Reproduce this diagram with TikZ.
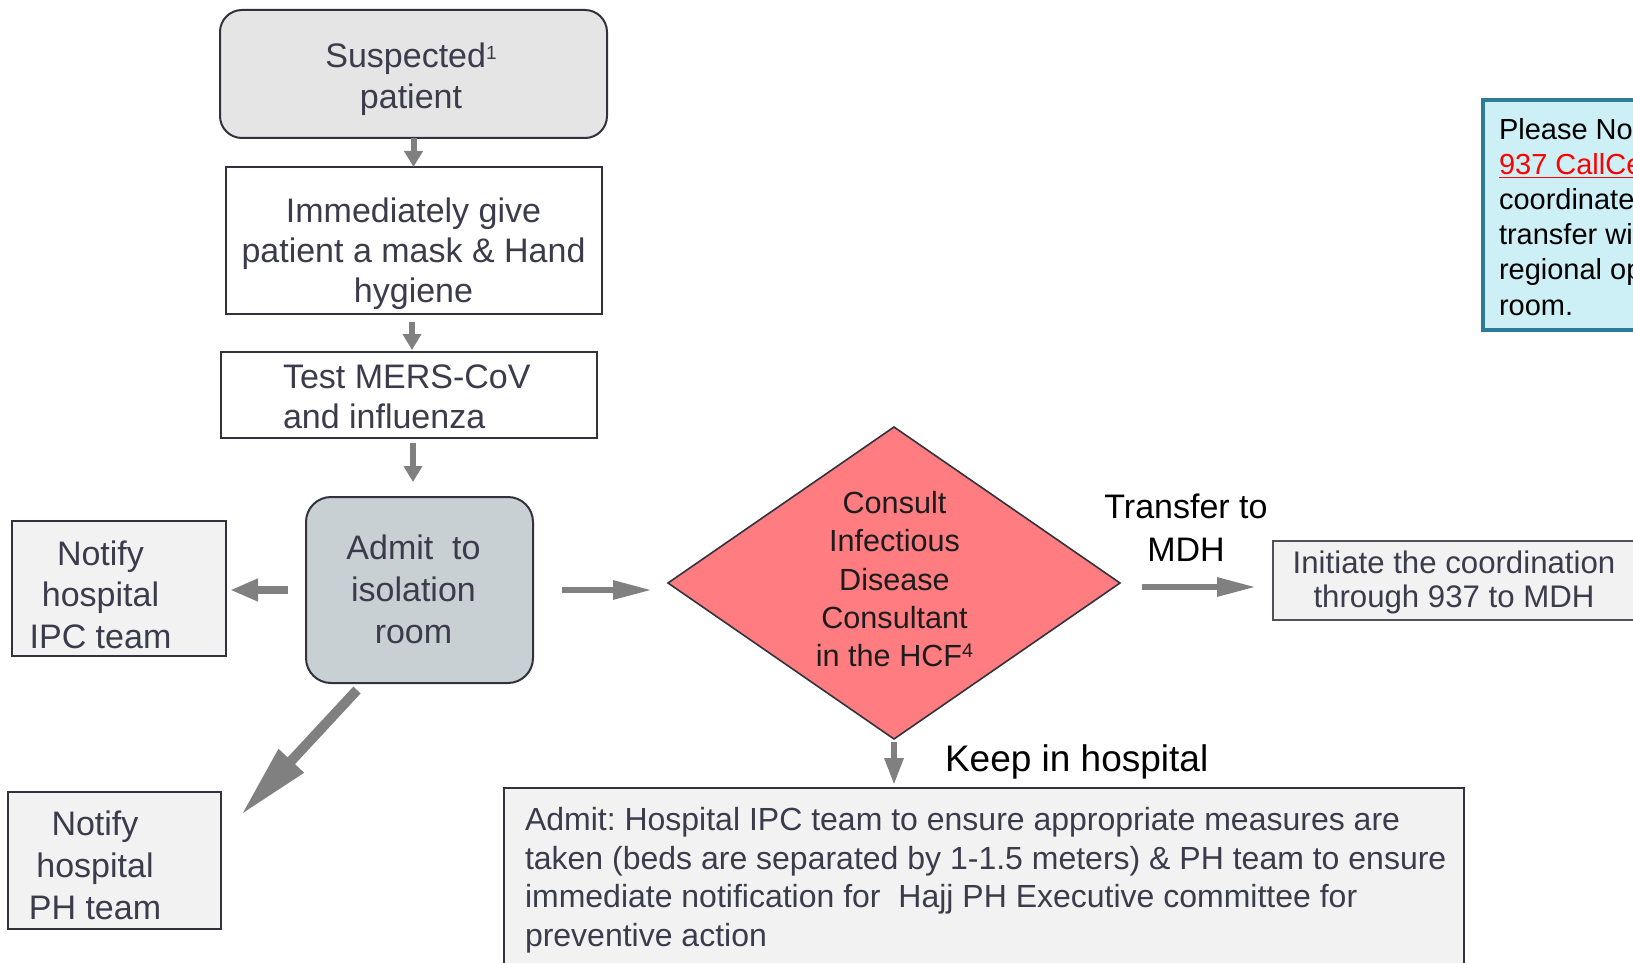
\documentclass[tikz,border=0pt]{standalone}
\usepackage{fontspec}
\setmainfont{Liberation Sans}
\usetikzlibrary{arrows.meta,shapes.geometric,calc}
\frenchspacing
\definecolor{txt}{RGB}{59,59,75}
\definecolor{darktxt}{RGB}{28,28,30}
\definecolor{arrowgrey}{RGB}{128,128,128}
\definecolor{suspfill}{RGB}{229,229,229}
\definecolor{admitfill}{RGB}{201,208,211}
\definecolor{boxfill}{RGB}{242,242,242}
\definecolor{edge}{RGB}{50,50,62}
\definecolor{diamfill}{RGB}{255,124,128}
\definecolor{notefill}{RGB}{205,239,246}
\definecolor{noteedge}{RGB}{44,124,151}
\definecolor{linkred}{RGB}{255,0,0}
\newcommand\fsz[2]{\fontsize{#1}{#2}\selectfont}
\newcommand\suprA[1]{\raisebox{4pt}{\fontsize{9.5}{10}\selectfont #1}}
\newcommand\suprB[1]{\raisebox{4.5pt}{\fontsize{9.8}{10}\selectfont #1}}
\begin{document}
\begin{tikzpicture}[x=0.5pt,y=-0.5pt,
  box/.style={draw=edge,line width=1pt,inner sep=0pt,outer sep=0pt},
  lbl/.style={inner sep=0pt,outer sep=0pt,align=center,text=txt},
  arrS/.style={draw=arrowgrey,line width=3pt,-{Triangle[length=8pt,width=9pt]}},
  arrL/.style={draw=arrowgrey,line width=4pt,-{Triangle[length=14pt,width=10.5pt]}},
  arrR/.style={draw=arrowgrey,line width=3pt,-{Triangle[length=19.5pt,width=9pt]}},
  arrD/.style={draw=arrowgrey,line width=5pt,-{Triangle[length=37pt,width=16pt]}},
  arrK/.style={draw=arrowgrey,line width=3pt,-{Triangle[length=13.5pt,width=9pt]}}]
\useasboundingbox (0,0) rectangle (1633,963);
\clip (0,0) rectangle (1633,963);

% boxes
\node[box,rounded corners=11pt,fill=suspfill,minimum width=193.5pt,minimum height=64pt] (susp) at (413.5,74) {};
\node[box,fill=white,minimum width=188pt,minimum height=73.5pt] (imm) at (414,240.5) {};
\node[box,fill=white,minimum width=188pt,minimum height=43pt] (test) at (409,395) {};
\node[box,rounded corners=12.5pt,fill=admitfill,minimum width=113.5pt,minimum height=93pt] (admit) at (419.5,590) {};
\node[box,fill=boxfill,minimum width=107pt,minimum height=67.5pt] (ipc) at (119,588.5) {};
\node[box,fill=boxfill,minimum width=106.5pt,minimum height=68.5pt] (ph) at (114,860.5) {};
\node[diamond,draw=edge,line width=0.8pt,fill=diamfill,inner sep=0pt,outer sep=0pt,minimum width=226pt,minimum height=156pt] (diam) at (894,583) {};
\node[box,draw=edge!85,fill=boxfill,minimum width=183.5pt,minimum height=39.5pt] (init) at (1456.5,580.5) {};
\node[box,fill=boxfill,minimum width=480pt,minimum height=106pt] (bottom) at (984,894) {};
\node[draw=noteedge,line width=1.75pt,fill=notefill,inner sep=0pt,outer sep=0pt,minimum width=150pt,minimum height=115pt] (note) at (1633,215) {};

% texts
\node[lbl,anchor=north,font=\fsz{17}{20.5}] (suspT) at (411,42.5) {Suspected\suprA{1}\\patient};
\node[lbl,anchor=north,font=\fsz{17}{20}] (immT) at (413.5,197.7) {Immediately give\\patient a mask \& Hand\\hygiene};
\node[lbl,anchor=north west,align=left,font=\fsz{17}{20.25}] (testT) at (283,364.5) {Test MERS-CoV\\and influenza};
\node[lbl,anchor=north,font=\fsz{17}{21}] (admitT) at (413.5,534.8) {Admit\ \ to\\isolation\\room};
\node[lbl,anchor=north,font=\fsz{17}{20.9}] (ipcT) at (100.5,540.5) {Notify\\hospital\\IPC team};
\node[lbl,anchor=north,font=\fsz{17}{21}] (phT) at (95,810.5) {Notify\\hospital\\PH team};
\node[lbl,anchor=north,text=darktxt,font=\fsz{15.3}{19.15}] (diamT) at (894.5,491.5) {Consult\\Infectious\\Disease\\Consultant\\in the HCF\suprB{4}};
\node[lbl,anchor=north,text=black,font=\fsz{17}{21.5}] (transT) at (1186,494.2) {Transfer to\\MDH};
\node[lbl,anchor=base west,text=black,font=\fsz{18.5}{22}] (keepT) at (945,771) {Keep in hospital};
\node[lbl,anchor=north,font=\fsz{15.6}{17.4}] (initT) at (1454,550.4) {Initiate the coordination\\through 937 to MDH};
\node[lbl,anchor=north west,align=left,font=\fsz{16}{19.25}] (bottomT) at (525,807.5) {Admit: Hospital IPC team to ensure appropriate measures are\\taken (beds are separated by 1-1.5 meters) \& PH team to ensure\\immediate notification for\ \ Hajj PH Executive committee for\\preventive action};
\node[lbl,anchor=north west,align=left,text=black,font=\fsz{14.5}{17.6}] (noteT) at (1499,118) {Please Notify\\{\color{linkred}\underline{937 CallCenter}} to\\coordinate the\\transfer with the\\regional operation\\room.};

% connectors
\draw[arrS] (susp.south) -- (susp.south |- imm.north);
\draw[arrS,shorten <=4pt,shorten >=1pt] ([xshift=-1pt]imm.south) -- ([xshift=-1pt]imm.south |- test.north);
\coordinate (tA) at ($(test.south)+(4,0)$);
\draw[arrS,shorten <=2.5pt,shorten >=7.5pt] (tA) -- (tA |- admit.north);
\draw[arrL,shorten <=9pt,shorten >=2pt] (admit.west) -- (admit.west -| ipc.east);
\draw[arrR,shorten <=14.5pt,shorten >=8pt] (admit.east) -- (admit.east -| diam.west);
\coordinate (dS) at ($(admit.south)+(-62.5,7)$);
\coordinate (dE) at ($(ph.north east)+(20.5,23)$);
\draw[arrD] (dS) -- (dE);
\coordinate (rS) at ([yshift=-2pt]diam.east);
\draw[arrR,shorten <=11pt,shorten >=8.5pt] (rS) -- (rS -| init.west);
\draw[arrK,shorten <=1.5pt,shorten >=1.5pt] (diam.south) -- (diam.south |- bottom.north);
\end{tikzpicture}
\end{document}
